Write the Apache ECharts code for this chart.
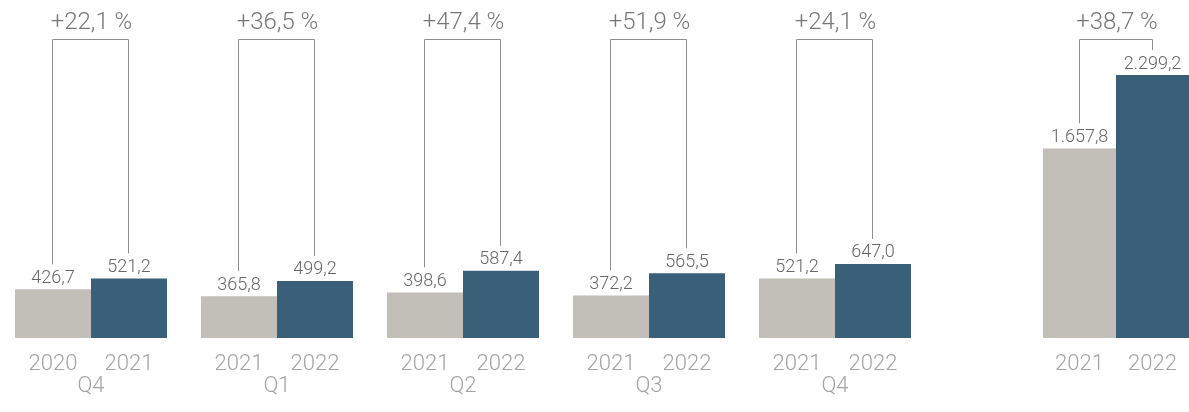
<!DOCTYPE html>
<html>
<head>
<meta charset="utf-8">
<script src="https://cdn.jsdelivr.net/npm/echarts@6/dist/echarts.min.js"></script>
<style>
  html, body { margin: 0; padding: 0; background: #fff; }
  #chart { width: 1189px; height: 412px; }
</style>
</head>
<body>
<div id="chart"></div>
<script>
// Period labels under each pair of bars (the annual pair has none)
const periods = ['Q4', 'Q1', 'Q2', 'Q3', 'Q4', ''];
const yearsPrev = ['2020', '2021', '2021', '2021', '2021', '2021'];
const yearsCurr = ['2021', '2022', '2022', '2022', '2022', '2022'];
const valuesPrev = [426.7, 365.8, 398.6, 372.2, 521.2, 1657.8];
const valuesCurr = [521.2, 499.2, 587.4, 565.5, 647.0, 2299.2];
const changes = ['+22,1 %', '+36,5 %', '+47,4 %', '+51,9 %', '+24,1 %', '+38,7 %'];

const COLOR_PREV = '#c2beb8';
const COLOR_CURR = '#3a5f78';
const FONT = 'Roboto, "Liberation Sans", sans-serif';

// German number format: 1.657,8
function fmt(v) {
  const parts = v.toFixed(1).split('.');
  const int = parts[0].replace(/\B(?=(\d{3})+(?!\d))/g, '.');
  return int + ',' + parts[1];
}

const lefts = [15, 201, 387, 573, 759, 1043];
const groupWidth = 152;
const BRACKET_TOP = 39.5;
const BRACKET_GAP = 25;

const grid = [], xAxis = [], yAxis = [], series = [];

periods.forEach((p, i) => {
  grid.push({ left: lefts[i], width: groupWidth, top: 0, bottom: 74, containLabel: false });
  xAxis.push({
    type: 'category', gridIndex: i, data: [yearsPrev[i], yearsCurr[i]],
    position: 'bottom',
    axisLine: { show: false }, axisTick: { show: false },
    axisLabel: { color: '#a3a3a3', fontSize: 22, fontFamily: FONT, fontWeight: 300, margin: 15 }
  });
  xAxis.push({
    type: 'category', gridIndex: i, data: [p],
    position: 'bottom', offset: 22,
    axisLine: { show: false }, axisTick: { show: false },
    axisLabel: { color: '#a3a3a3', fontSize: 22, fontFamily: FONT, fontWeight: 300, margin: 15 }
  });
  yAxis.push({ type: 'value', gridIndex: i, min: 0, max: 2955, show: false, splitLine: { show: false } });

  series.push({
    type: 'bar', xAxisIndex: 2 * i, yAxisIndex: i,
    barWidth: '100%', barCategoryGap: 0,
    data: [
      { value: valuesPrev[i], itemStyle: { color: COLOR_PREV } },
      { value: valuesCurr[i], itemStyle: { color: COLOR_CURR } }
    ],
    label: {
      show: true, position: 'top', distance: 2,
      color: '#666', fontSize: 18, fontFamily: FONT, fontWeight: 300,
      formatter: (d) => fmt(d.value)
    },
    silent: true
  });

  // Bracket joining the two bars with the change label above it
  series.push({
    type: 'custom', xAxisIndex: 2 * i, yAxisIndex: i, clip: false, silent: true, z: 5,
    data: [[valuesPrev[i], valuesCurr[i], changes[i]]],
    renderItem: function (params, api) {
      const a = api.coord([0, api.value(0)]);
      const b = api.coord([1, api.value(1)]);
      const x1 = Math.round(a[0]) - 0.5;
      const x2 = Math.round(b[0]) - 0.5;
      const lineStyle = { stroke: '#8e8e8e', lineWidth: 1, fill: null };
      return {
        type: 'group',
        children: [
          {
            type: 'polyline',
            shape: { points: [[x1, a[1] - BRACKET_GAP], [x1, BRACKET_TOP], [x2, BRACKET_TOP], [x2, b[1] - BRACKET_GAP]] },
            style: lineStyle
          },
          {
            type: 'text',
            x: (x1 + x2) / 2 + 1, y: BRACKET_TOP - 5,
            style: {
              text: api.value(2), fill: '#777', fontSize: 24, fontFamily: FONT, fontWeight: 300,
              textAlign: 'center', textVerticalAlign: 'bottom'
            }
          }
        ]
      };
    }
  });
});

const chart = echarts.init(document.getElementById('chart'), null, { renderer: 'canvas' });
chart.setOption({ animation: false, grid, xAxis, yAxis, series });
</script>
</body>
</html>
